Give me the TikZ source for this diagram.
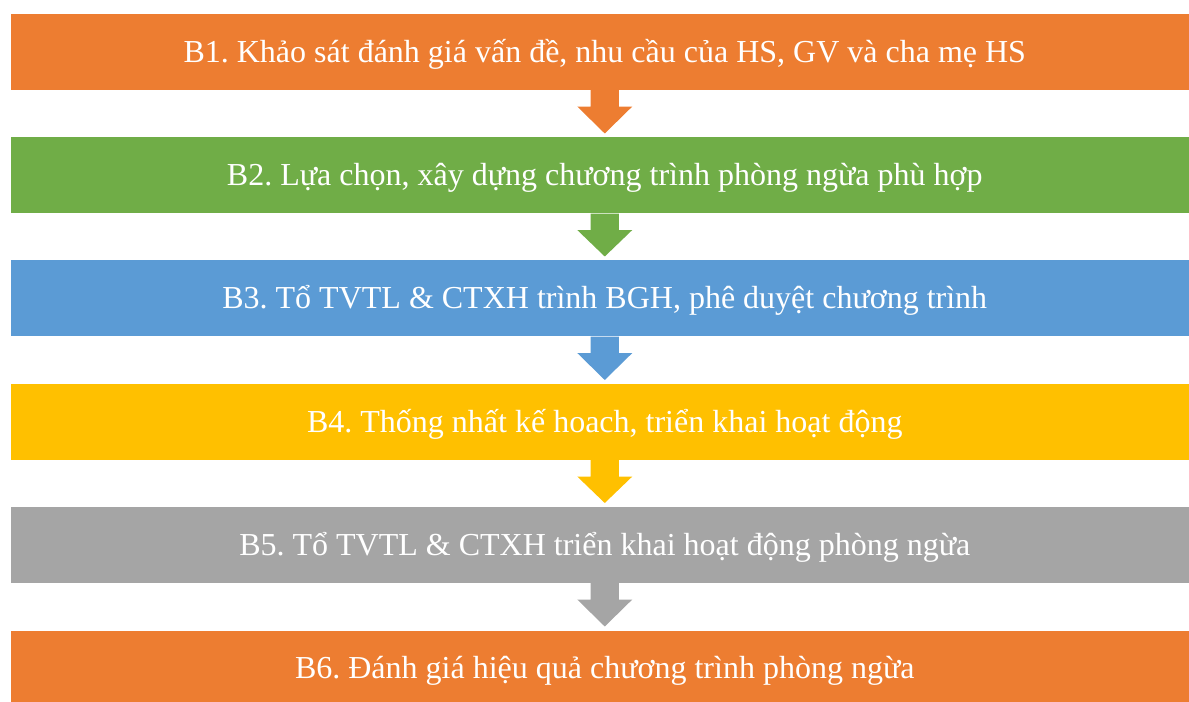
\documentclass[tikz,border=0pt]{standalone}
\usepackage{fontspec}
\setmainfont{Liberation Serif}
\usetikzlibrary{calc}
\definecolor{corange}{HTML}{ED7D31}
\definecolor{cgreen}{HTML}{70AD47}
\definecolor{cblue}{HTML}{5B9BD5}
\definecolor{cyellow}{HTML}{FFC000}
\definecolor{cgray}{HTML}{A5A5A5}
\tikzset{
  stepbox/.style={fill=#1, draw=white, line width=0.4pt, anchor=north west,
    minimum width=1190*0.75pt, minimum height=77*0.75pt, inner sep=0pt,
    text height=15.9pt, text depth=0pt,
    text=white, font=\fontsize{24}{28}\selectfont},
}
\begin{document}
\frenchspacing
\begin{tikzpicture}[x=0.75pt,y=-0.75pt]
\useasboundingbox (0,0) rectangle (1189,702);
\node[stepbox=corange] (b1) at (9.5,13) {B1. Khảo sát đánh giá vấn đề, nhu cầu của HS, GV và cha mẹ HS};
\node[stepbox=cgreen] (b2) at (9.5,136.5) {B2. Lựa chọn, xây dựng chương trình phòng ngừa phù hợp};
\node[stepbox=cblue] (b3) at (9.5,259.5) {B3. Tổ TVTL \& CTXH trình BGH, phê duyệt chương trình};
\node[stepbox=cyellow] (b4) at (9.5,383) {B4. Thống nhất kế hoach, triển khai hoạt động};
\node[stepbox=cgray] (b5) at (9.5,506) {B5. Tổ TVTL \& CTXH triển khai hoạt động phòng ngừa};
\node[stepbox=corange] (b6) at (9.5,629.5) {B6. Đánh giá hiệu quả chương trình phòng ngừa};
\foreach \a/\b/\c in {b1/b2/corange, b2/b3/cgreen, b3/b4/cblue, b4/b5/cyellow, b5/b6/cgray}{
  \fill[\c] ($(\a.south)+(-14.2,-0.5)$) -- ($(\a.south)+(-14.2,16)$) -- ($(\a.south)+(-27.5,16)$)
    -- ($(\b.north)+(0,-3)$) -- ($(\a.south)+(27.5,16)$) -- ($(\a.south)+(14.2,16)$)
    -- ($(\a.south)+(14.2,-0.5)$) -- cycle;
}
\end{tikzpicture}
\end{document}
